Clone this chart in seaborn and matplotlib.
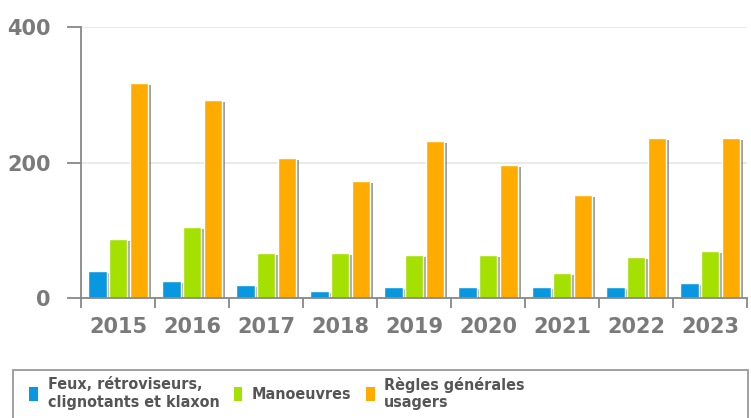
import matplotlib

matplotlib.use("Agg")
import matplotlib.pyplot as plt
import matplotlib.patheffects as pe
from matplotlib.font_manager import fontManager
from matplotlib.patches import Rectangle, Patch
import numpy as np
import pandas as pd
import seaborn as sns

years = ["2015", "2016", "2017", "2018", "2019", "2020", "2021", "2022", "2023"]
feux = [40, 25, 19, 10, 16, 16, 16, 16, 22]
manoeuvres = [87, 105, 66, 66, 63, 63, 37, 60, 69]
regles = [317, 292, 207, 173, 232, 196, 152, 236, 236]
series = ["Feux, rétroviseurs,\nclignotants et klaxon", "Manoeuvres", "Règles générales\nusagers"]
colors = ["#0898e0", "#a4e000", "#ffab00"]
yticks = [0, 200, 400]

df = pd.DataFrame({
    "year": years * 3,
    "value": feux + manoeuvres + regles,
    "serie": [s for s in series for _ in years],
})

sns.set_style("white")
fig = plt.figure(figsize=(7.51, 4.18), dpi=100)
ax = fig.add_axes([0.108, 0.287, 0.887, 0.648])

sns.barplot(data=df, x="year", y="value", hue="serie", palette=colors,
            width=0.84, gap=0.12, saturation=1, legend=False, ax=ax)

# petite ombre portée sous les barres
for p in ax.patches:
    p.set_path_effects([pe.SimplePatchShadow(offset=(2, -1.5), shadow_rgbFace="#777777", alpha=0.7),
                        pe.Normal()])

ax.set_ylim(0, 400)
ax.set_xlim(-0.5, len(years) - 0.5)
ax.set_yticks(yticks)
ax.set_xlabel("")
ax.set_ylabel("")
ax.grid(axis="y", color="#e6e6e6", linewidth=1.2)
ax.set_axisbelow(True)

for side in ["top", "right"]:
    ax.spines[side].set_visible(False)
for side in ["left", "bottom"]:
    ax.spines[side].set_color("#888888")
    ax.spines[side].set_linewidth(1.3)

ax.set_xticks(np.arange(len(years)))
ax.set_xticklabels(years)
ax.set_xticks(np.arange(len(years) + 1) - 0.5, minor=True)
ax.tick_params(axis="x", which="major", bottom=False, pad=10, labelsize=15, labelcolor="#7a7a7a")
ax.tick_params(axis="x", which="minor", bottom=True, length=7, width=1.3, color="#888888", direction="out")
ax.tick_params(axis="y", left=True, length=10, width=1.3, color="#888888", pad=12,
               labelsize=15, labelcolor="#7a7a7a")
for lbl in ax.get_xticklabels() + ax.get_yticklabels():
    lbl.set_fontweight("bold")

# légende encadrée en bas, police condensée si disponible
names = {f.name for f in fontManager.ttflist}
if "Liberation Sans Narrow" in names:
    leg_font = {"family": "Liberation Sans Narrow", "weight": "bold", "size": 12.5}
else:
    leg_font = {"family": "DejaVu Sans", "stretch": "condensed", "weight": "bold", "size": 11.5}

fig.patches.append(Rectangle((13 / 751, -0.02), 735 / 751, 0.135, transform=fig.transFigure,
                             facecolor="white", edgecolor="#999999", linewidth=1.3))
handles = [Patch(facecolor=c, edgecolor="none") for c in colors]
fig.legend(handles, series, loc="lower left", bbox_to_anchor=(0.024, -0.008), ncol=3,
           frameon=False, handlelength=0.55, handleheight=1.0, handletextpad=0.6,
           columnspacing=0.9, labelspacing=0.1, borderpad=0.2,
           prop=leg_font, labelcolor="#555555")

fig.savefig("out.png", dpi=100)
